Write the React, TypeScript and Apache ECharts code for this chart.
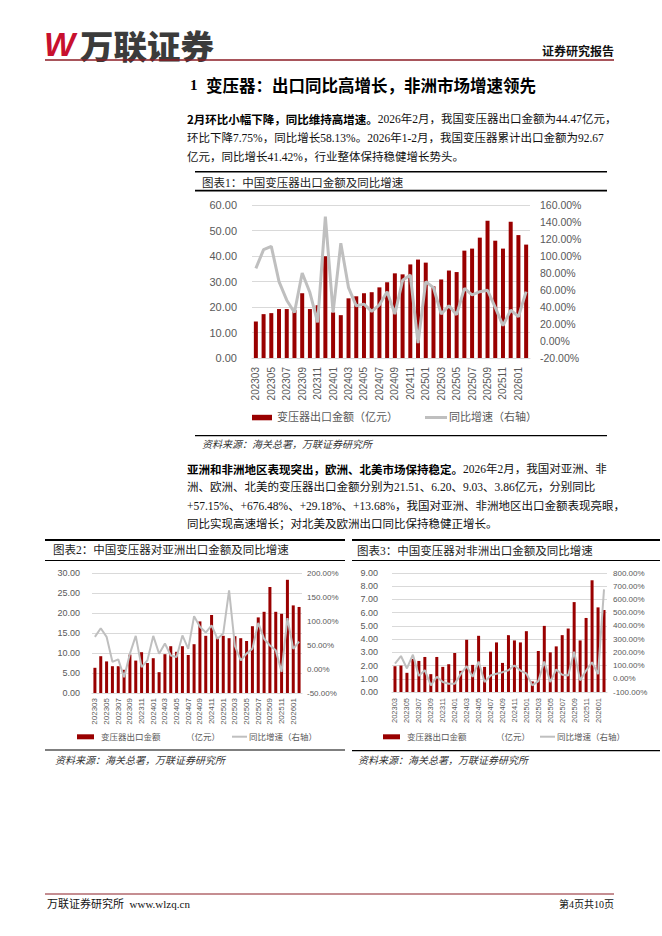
import React, { useEffect, useRef } from 'react';
import * as echarts from 'echarts';

// ---------- data ----------
const months = [
  '202303', '202304', '202305', '202306', '202307', '202308', '202309', '202310', '202311', '202312',
  '202401', '202402', '202403', '202404', '202405', '202406', '202407', '202408', '202409', '202410',
  '202411', '202412', '202501', '202502', '202503', '202504', '202505', '202506', '202507', '202508',
  '202509', '202510', '202511', '202512', '202601', '202602',
];

// 图表1 中国变压器出口金额（亿元）及同比（%）
const totalExport = [
  14.3, 17.2, 17.6, 19.2, 19.2, 18.8, 25.4, 19.2, 20.7, 39.9,
  17.9, 16.8, 23.4, 24.2, 25.4, 25.8, 27.7, 29.7, 33.2, 32.8,
  36.7, 38.6, 37.4, 28.1, 30.8, 34.3, 33.7, 42.1, 42.9, 47.2,
  53.8, 46.0, 42.9, 53.4, 48.2, 44.47,
];
const totalYoY = [
  85.4, 107.5, 111.4, 69.8, 48, 33.6, 80, 57, 22, 146.4,
  33.6, 115, 62.8, 41.4, 43.4, 34.8, 42.6, 58, 31.7, 71.4,
  77.6, -2.5, 69.8, 62.8, 31.7, 41.4, 31, 62, 54.2, 58,
  59.7, 39.5, 18.1, 36.4, 28.6, 58.13,
];

// 图表2 对亚洲
const asiaExport = [
  6.3, 9.2, 7.9, 6.7, 6.7, 5.8, 9.6, 8.1, 10.2, 7.5,
  8.7, 5.2, 9.7, 11.7, 10.3, 11.7, 9.5, 12.2, 17.9, 14.3,
  19.5, 14.0, 14.3, 13.7, 14.2, 13.7, 13.0, 16.7, 18.9, 20.3,
  26.5, 20.3, 19.8, 28.3, 21.9, 21.51,
];
const asiaYoY = [
  67, 85, 67, 15, 20, -17, 32, 69, 4, 18,
  69, 32, 53, 28, 25, 70, 42, 110, 88, 76,
  91, 63, 74, 164, 48, 18, 32, 42, 96, 63,
  49, 39, -6, 106, 42, 57.15,
];

// 图表3 对非洲
const africaExport = [
  1.95, 2.0, 1.45, 2.5, 2.35, 2.65, 1.35, 2.65, 1.9, 2.1,
  2.95, 1.6, 3.95, 2.05, 4.25, 1.9, 3.05, 3.75, 2.2, 4.3,
  3.9, 3.75, 4.6, 0.8, 3.1, 5.0, 3.0, 3.45, 4.3, 4.8,
  6.8, 3.9, 5.6, 8.45, 6.4, 6.2,
];
const africaYoY = [
  115, 172, 78, 182, 22, 65, -50, 15, -25, -38,
  -38, 35, 95, 15, 130, -25, 25, 38, 50, 65,
  100, 62, 40, -50, -18, 130, -25, 70, 30, 25,
  205, -12, 62, 125, 35, 676.48,
];

const axisRanges = [
  { left: { min: 0, max: 60, interval: 10 }, right: { min: -20, max: 160, interval: 20 } },
  { left: { min: 0, max: 30, interval: 5 }, right: { min: -50, max: 200, interval: 50 } },
  { left: { min: 0, max: 9, interval: 1 }, right: { min: -100, max: 800, interval: 100 } },
];

// ---------- styles ----------
const BODY_FONT = '"Liberation Serif", "Noto Sans CJK SC", serif';
const CJK_FONT = '"Noto Sans CJK SC", sans-serif';
const AXIS_FONT = '"Liberation Sans", "Noto Sans", sans-serif';
const RED = '#990000';
const GREY = '#BFBFBF';
const GRID_C = '#D9D9D9';
const AXIS_TEXT = '#595959';
const BRAND = '#8B1C24';

type TOpt = {
  fontSize?: number; fontFamily?: string; fontWeight?: string | number; fontStyle?: string;
  fill?: string; align?: string; rich?: any;
};
function txt(x: number, y: number, text: string, o: TOpt = {}) {
  const align = o.align ?? 'left';
  return {
    type: 'text', x, y, silent: true,
    style: {
      text,
      fontSize: o.fontSize ?? 11.5,
      fontFamily: o.fontFamily ?? BODY_FONT,
      fontWeight: o.fontWeight ?? 'normal',
      fontStyle: o.fontStyle ?? 'normal',
      fill: o.fill ?? '#111',
      textAlign: align, align,
      textVerticalAlign: 'middle', verticalAlign: 'middle',
      rich: o.rich,
    },
  };
}
function hline(x1: number, x2: number, y: number, w: number, c = '#000') {
  return { type: 'line', silent: true, shape: { x1, y1: y, x2, y2: y }, style: { stroke: c, lineWidth: w } };
}
function richPara(size: number) {
  return {
    b: { fontSize: size, fontFamily: CJK_FONT, fontWeight: 'bold', fill: '#000' },
    n: { fontSize: size, fontFamily: BODY_FONT, fontWeight: 'normal', fill: '#111' },
  };
}

const grids = [
  { left: 252, top: 205, width: 278, height: 153 },
  { left: 92, top: 573, width: 210, height: 120 },
  { left: 392, top: 573, width: 215, height: 119 },
];
const xLabelSize = [10, 8, 7.5];
const xLabelMargin = [9, 5, 6];
const yLeftSize = [11, 9, 9];
const yRightSize = [10.5, 8, 8];
const yLeftMargin = [15, 12, 14];
const yRightMargin = [10, 5, 6];
const barWidths = [4, 3, 3];
const lineWidths = [3, 2, 2];
const seriesData = [
  [totalExport, totalYoY],
  [asiaExport, asiaYoY],
  [africaExport, africaYoY],
];

export default function App() {
  const ref = useRef<HTMLDivElement>(null);
  useEffect(() => {
    if (!ref.current) return;
    const chart = echarts.init(ref.current, null, { renderer: 'svg' });

    const xAxis = grids.map((_, i) => ({
      type: 'category', gridIndex: i, data: months, boundaryGap: true,
      axisLine: { show: true, lineStyle: { color: GRID_C } },
      axisTick: { show: false },
      axisLabel: {
        rotate: 90, interval: 1, fontSize: xLabelSize[i], color: AXIS_TEXT,
        fontFamily: AXIS_FONT, margin: xLabelMargin[i],
      },
      splitLine: { show: false },
    }));
    const yAxis: any[] = [];
    grids.forEach((_, i) => {
      yAxis.push({
        type: 'value', gridIndex: i, position: 'left', ...axisRanges[i].left,
        axisLine: { show: false }, axisTick: { show: false },
        axisLabel: {
          formatter: (v: number) => v.toFixed(2), fontSize: yLeftSize[i], color: AXIS_TEXT,
          fontFamily: AXIS_FONT, margin: yLeftMargin[i],
        },
        splitLine: { show: true, lineStyle: { color: GRID_C, width: 1 } },
      });
      yAxis.push({
        type: 'value', gridIndex: i, position: 'right', ...axisRanges[i].right,
        axisLine: { show: false }, axisTick: { show: false },
        axisLabel: {
          formatter: (v: number) => v.toFixed(2) + '%', fontSize: yRightSize[i], color: AXIS_TEXT,
          fontFamily: AXIS_FONT, margin: yRightMargin[i],
        },
        splitLine: { show: false },
      });
    });
    const series: any[] = [];
    seriesData.forEach(([bars, line], i) => {
      series.push({
        type: 'bar', name: 'bar' + i, xAxisIndex: i, yAxisIndex: i * 2, data: bars,
        barWidth: barWidths[i], itemStyle: { color: RED }, z: 2,
      });
      series.push({
        type: 'line', name: 'line' + i, xAxisIndex: i, yAxisIndex: i * 2 + 1, data: line,
        symbol: 'none', showSymbol: false, lineStyle: { color: GREY, width: lineWidths[i] },
        itemStyle: { color: GREY }, z: 3,
      });
    });

    const P = 11.5;
    const elements: any[] = [
      // header
      txt(44, 44, 'W', { fontSize: 33, fontWeight: 900, fontStyle: 'italic', fill: '#C8102E', fontFamily: AXIS_FONT }),
      txt(80, 44, '万联证券', { fontSize: 33.5, fontWeight: 900, fill: '#3b3b3b', fontFamily: CJK_FONT }),
      txt(614, 50, '证券研究报告', { fontSize: 12, fontWeight: 'bold', fill: '#111', fontFamily: CJK_FONT, align: 'right' }),
      hline(45, 614, 60, 1.5, BRAND),
      txt(190, 85, '1', { fontSize: 15, fontWeight: 'bold', fill: '#000' }),
      txt(206, 85, '变压器：出口同比高增长，非洲市场增速领先', { fontSize: 16.5, fontWeight: 'bold', fill: '#000', fontFamily: CJK_FONT }),

      // paragraph 1
      txt(187, 118.5, '{b|2月环比小幅下降，同比维持高增速。}{n|2026年2月，我国变压器出口金额为44.47亿元，}', { rich: richPara(P) }),
      txt(187, 137.5, '环比下降7.75%，同比增长58.13%。2026年1-2月，我国变压器累计出口金额为92.67', { fontSize: P }),
      txt(187, 156.5, '亿元，同比增长41.42%，行业整体保持稳健增长势头。', { fontSize: P }),

      // chart 1 frame
      hline(195, 607, 171.7, 1.5),
      txt(202, 182.5, '图表1：中国变压器出口金额及同比增速', { fontSize: 11.5, fill: '#222' }),
      hline(195, 607, 190.7, 1.8),
      { type: 'rect', silent: true, shape: { x: 252, y: 414.8, width: 20, height: 5.5 }, style: { fill: RED } },
      txt(277, 417.2, '变压器出口金额（亿元）', { fontSize: 11, fill: AXIS_TEXT }),
      { type: 'line', silent: true, shape: { x1: 425, y1: 417.5, x2: 447, y2: 417.5 }, style: { stroke: GREY, lineWidth: 3 } },
      txt(449, 417.2, '同比增速（右轴）', { fontSize: 11, fill: AXIS_TEXT }),
      hline(195, 607, 435.7, 1.2),
      txt(202, 444.3, '资料来源：海关总署，万联证券研究所', { fontSize: 10, fontStyle: 'italic', fill: '#333' }),

      // paragraph 2
      txt(187, 468.5, '{b|亚洲和非洲地区表现突出，欧洲、北美市场保持稳定。}{n|2026年2月，我国对亚洲、非}', { rich: richPara(P) }),
      txt(187, 487, '洲、欧洲、北美的变压器出口金额分别为21.51、6.20、9.03、3.86亿元，分别同比', { fontSize: P }),
      txt(187, 505.5, '+57.15%、+676.48%、+29.18%、+13.68%，我国对亚洲、非洲地区出口金额表现亮眼，', { fontSize: P }),
      txt(187, 524, '同比实现高速增长；对北美及欧洲出口同比保持稳健正增长。', { fontSize: P }),

      // chart 2 frame
      hline(45, 345, 540, 2),
      txt(53, 550, '图表2：中国变压器对亚洲出口金额及同比增速', { fontSize: 11.5, fill: '#222' }),
      hline(45, 345, 560.5, 1),
      { type: 'rect', silent: true, shape: { x: 77, y: 734.3, width: 17, height: 5 }, style: { fill: RED } },
      txt(101, 736.7, '变压器出口金额', { fontSize: 8.5, fill: AXIS_TEXT }),
      txt(186, 736.7, '（亿元）', { fontSize: 8.5, fill: AXIS_TEXT }),
      { type: 'line', silent: true, shape: { x1: 232, y1: 736.7, x2: 247, y2: 736.7 }, style: { stroke: GREY, lineWidth: 2 } },
      txt(249, 736.7, '同比增速（右轴）', { fontSize: 8.5, fill: AXIS_TEXT }),
      hline(45, 345, 750, 1.2),
      txt(55, 760, '资料来源：海关总署，万联证券研究所', { fontSize: 10, fontStyle: 'italic', fill: '#333' }),

      // chart 3 frame
      hline(352, 660, 540, 2),
      txt(357, 551, '图表3：中国变压器对非洲出口金额及同比增速', { fontSize: 11.5, fill: '#222' }),
      hline(352, 660, 560.5, 1),
      { type: 'rect', silent: true, shape: { x: 383, y: 734.3, width: 17, height: 5 }, style: { fill: RED } },
      txt(407, 736.7, '变压器出口金额', { fontSize: 8.5, fill: AXIS_TEXT }),
      txt(496, 736.7, '（亿元）', { fontSize: 8.5, fill: AXIS_TEXT }),
      { type: 'line', silent: true, shape: { x1: 540, y1: 736.7, x2: 555, y2: 736.7 }, style: { stroke: GREY, lineWidth: 2 } },
      txt(557, 736.7, '同比增速（右轴）', { fontSize: 8.5, fill: AXIS_TEXT }),
      hline(352, 660, 750.7, 1.2),
      txt(358, 760, '资料来源：海关总署，万联证券研究所', { fontSize: 10, fontStyle: 'italic', fill: '#333' }),

      // footer
      hline(45, 614, 894, 1, BRAND),
      txt(47, 904, '万联证券研究所  www.wlzq.cn', { fontSize: 11, fill: '#111' }),
      txt(614, 904, '第4页共10页', { fontSize: 10, fill: '#111', align: 'right' }),
    ];

    chart.setOption({
      animation: false,
      backgroundColor: '#ffffff',
      grid: grids.map((g) => ({ ...g, containLabel: false })),
      xAxis,
      yAxis,
      series,
      graphic: { elements },
    });
    return () => chart.dispose();
  }, []);
  return (
    <div
      ref={ref}
      style={{ position: 'absolute', left: 0, top: 0, width: '662px', height: '936px', background: '#fff' }}
    />
  );
}
